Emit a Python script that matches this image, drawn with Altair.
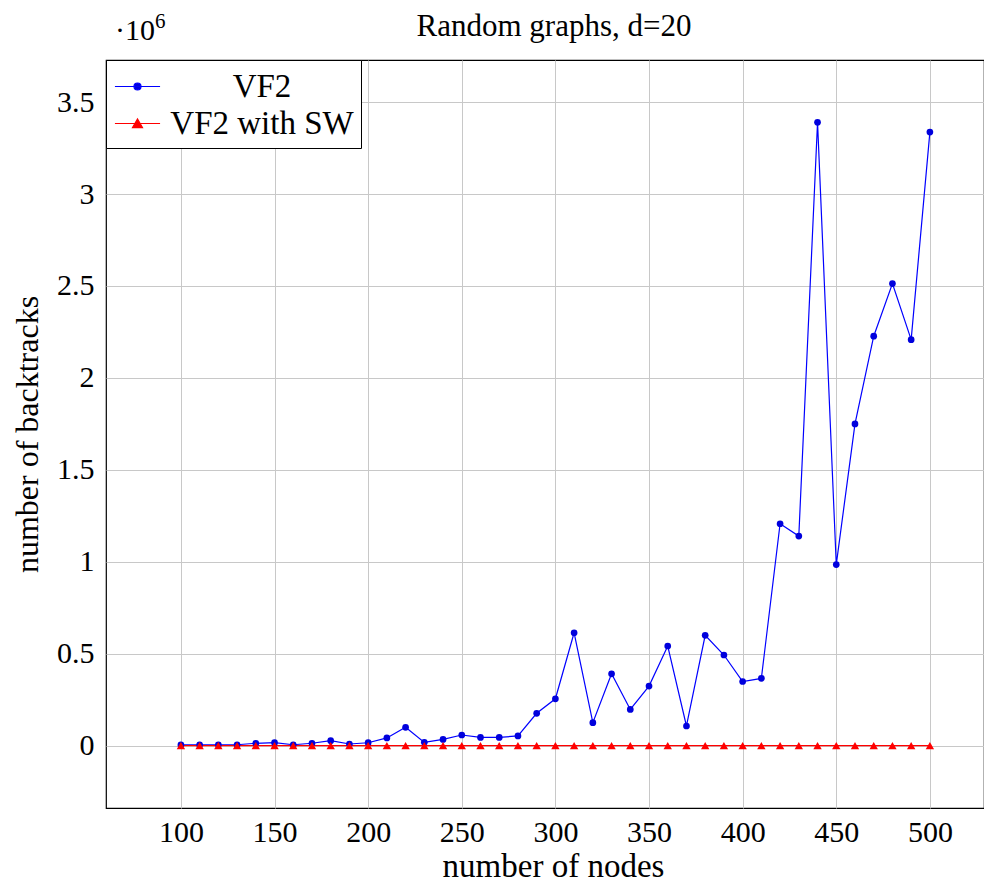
import altair as alt
import pandas as pd

FONT = "Liberation Serif"

nodes = [100, 110, 120, 130, 140, 150, 160, 170, 180, 190, 200,
         210, 220, 230, 240, 250, 260, 270, 280, 290, 300,
         310, 320, 330, 340, 350, 360, 370, 380, 390, 400,
         410, 420, 430, 440, 450, 460, 470, 480, 490, 500]

vf2 = [4000, 5000, 5000, 5000, 13000, 16000, 5000, 13000, 27000, 9000, 16000,
       42000, 100000, 18000, 34000, 58000, 45000, 45000, 53000, 176000, 255000,
       614000, 125000, 391000, 197000, 324000, 542000, 107000, 600000, 493000, 349000,
       366000, 1207000, 1140000, 3390000, 985000, 1750000, 2227000, 2513000, 2208000, 3337000]

vf2_sw = [0, 0, 0, 0, 0, 0, 0, 0, 0, 0, 0,
          0, 0, 0, 0, 0, 0, 0, 0, 0, 0,
          0, 0, 0, 0, 0, 0, 0, 0, 0, 0,
          0, 0, 0, 0, 0, 0, 0, 0, 0, 0]

series_names = ["VF2", "VF2 with SW"]
line_colors = ["#0000ff", "#ff0000"]
marker_fill = ["#0000dd", "#ff0000"]

x_ticks = [100, 150, 200, 250, 300, 350, 400, 450, 500]
y_ticks = [0, 500000, 1000000, 1500000, 2000000, 2500000, 3000000, 3500000]

title_text = ["Random graphs, d=20"]
exp_base = ["·10"]
exp_sup = ["6"]

W, H = 878, 748

df_vf2 = pd.DataFrame({"nodes": nodes, "backtracks": vf2, "series": series_names[0]})
df_sw = pd.DataFrame({"nodes": nodes, "backtracks": vf2_sw, "series": series_names[1]})
df_all = pd.concat([df_vf2, df_sw], ignore_index=True)

x_enc = alt.X("nodes:Q",
              scale=alt.Scale(domain=[60, 528.9], nice=False, zero=False),
              axis=alt.Axis(values=x_ticks, format="d", title="number of nodes",
                            titleX=447, titleY=68, titleBaseline="alphabetic"))
y_enc = alt.Y("backtracks:Q",
              scale=alt.Scale(domain=[-339000, 3729000], nice=False, zero=False),
              axis=alt.Axis(values=y_ticks,
                            labelExpr="format(datum.value / 1000000, '~g')",
                            title="number of backtracks", titleX=-62, titleFontSize=32))

# legend symbols: a short line with the marker in its middle
circle_path = "M-1.22,0H1.22M-0.19,0A0.19,0.19,0,1,1,0.19,0A0.19,0.19,0,1,1,-0.19,0Z"
tri_path = "M-1.22,0H1.22M-0.27,0.22L0.27,0.22L0,-0.25Z"

legend = alt.Legend(
    title=None, orient="top-left", offset=0, symbolSize=1369, symbolOffset=5,
    labelAlign="center", labelOffset=105, labelFont=FONT, labelFontSize=33,
    labelColor="black", labelLimit=0, padding=7, rowPadding=0,
    strokeColor="black", fillColor="white", cornerRadius=0,
    symbolStrokeWidth=1.2, symbolOpacity=1,
)

def series_line(d, color):
    return alt.Chart(d).mark_line(strokeWidth=1.2, color=color).encode(x=x_enc, y=y_enc)

def series_points(d, shape, fill, size):
    return alt.Chart(d).mark_point(filled=True, shape=shape, size=size, opacity=1,
                                   fill=fill, strokeWidth=0).encode(
        x="nodes:Q", y="backtracks:Q")

legend_layer = alt.Chart(df_all).transform_filter("false").mark_point(
    filled=True, opacity=1, strokeWidth=1.2).encode(
    x="nodes:Q", y="backtracks:Q",
    fill=alt.Fill("series:N", scale=alt.Scale(domain=series_names, range=marker_fill), legend=legend),
    stroke=alt.Stroke("series:N", scale=alt.Scale(domain=series_names, range=line_colors), legend=legend),
    shape=alt.Shape("series:N", scale=alt.Scale(domain=series_names, range=[circle_path, tri_path]), legend=legend),
)

def label(text, size, x, y, align="left"):
    return alt.Chart(pd.DataFrame({"t": text})).mark_text(
        align=align, baseline="alphabetic", font=FONT, fontSize=size, color="black"
    ).encode(text="t:N", x=alt.value(x), y=alt.value(y))

chart = alt.layer(
    series_line(df_vf2, line_colors[0]),
    series_line(df_sw, line_colors[1]),
    series_points(df_vf2, "circle", marker_fill[0], 45),
    series_points(df_sw, "triangle-up", marker_fill[1], 70),
    legend_layer,
    label(title_text, 31, 448, -24, align="center"),
    label(exp_base, 30, 9, -20),
    label(exp_sup, 21, 49, -32),
).properties(
    width=W, height=H,
    autosize=alt.AutoSizeParams(type="none"),
    padding={"left": 98, "top": 52, "right": 0, "bottom": 75},
).configure_view(
    stroke="black", strokeWidth=1.2
).configure_axis(
    grid=True, gridColor="#c8c8c8", gridWidth=1,
    domain=False, ticks=False,
    labelFont=FONT, labelFontSize=30, labelColor="black",
    titleFont=FONT, titleFontSize=33, titleColor="black", titleFontWeight="normal",
).configure_axisX(
    labelPadding=33, labelBaseline="alphabetic"
).configure_axisY(
    labelPadding=12
)

chart.save("out.html", embed_options={"renderer": "svg", "actions": False})
